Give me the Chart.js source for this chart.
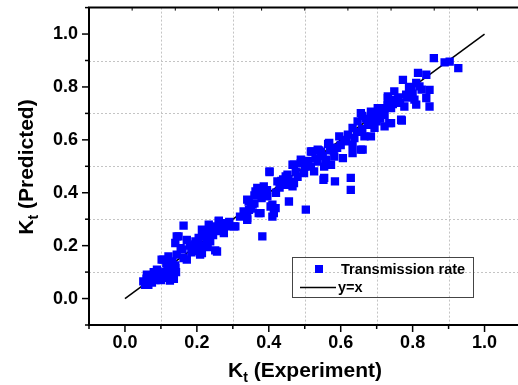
<!DOCTYPE html>
<html><head><meta charset="utf-8">
<script src="https://cdn.jsdelivr.net/npm/chart.js@4/dist/chart.umd.min.js"></script>
<style>html,body{margin:0;padding:0;background:#fff;overflow:hidden}#wrap{width:518px;height:385px;position:relative;overflow:hidden}</style>
</head><body><div id="wrap"><canvas id="c" width="530" height="385"></canvas></div>
<script>
const expX = [
0.051,0.056,0.065,0.061,0.070,0.079,0.089,0.085,0.098,0.095,0.107,0.112,0.121,0.130,0.135,0.128,0.110,0.118,0.140,0.075,0.100,0.125,0.136,0.090,0.105,0.060,0.080,0.115,0.132,0.142,0.121,0.102,
0.140,0.144,0.149,0.163,0.144,0.163,0.172,0.186,0.172,0.196,0.205,0.209,0.214,0.214,0.219,0.228,0.233,0.237,0.237,0.247,0.251,0.256,0.261,0.275,0.284,0.284,0.303,0.307,0.261,0.155,0.180,0.200,0.225,0.245,0.265,0.290,0.185,0.160,0.230,0.195,
0.330,0.340,0.340,0.344,0.340,0.363,0.368,0.386,0.396,0.402,0.402,0.424,0.447,0.452,0.466,0.466,0.489,0.456,0.419,0.377,0.410,0.410,0.405,0.372,0.414,0.382,0.442,0.470,0.452,0.470,0.498,0.489,0.503,0.350,0.360,0.380,0.390,0.430,0.440,0.480,0.360,0.320,0.355,0.420,0.460,
0.517,0.526,0.536,0.554,0.573,0.517,0.521,0.536,0.540,0.559,0.565,0.568,0.582,0.606,0.596,0.615,0.633,0.633,0.638,0.661,0.656,0.554,0.552,0.584,0.628,0.628,0.633,0.647,0.500,0.530,0.570,0.600,0.620,0.550,0.590,
0.656,0.684,0.712,0.675,0.694,0.722,0.735,0.666,0.684,0.731,0.703,0.740,0.722,0.768,0.740,0.770,0.749,0.731,0.782,0.805,0.759,0.777,0.810,0.796,0.773,0.810,0.819,0.847,0.838,0.847,0.815,0.838,0.859,0.889,0.903,0.927,0.670,0.690,0.700,0.710,0.730,0.750,0.760,0.790,0.680,0.720,0.660,0.700,
0.085,0.110,0.125,0.140,0.195,0.215,0.250,0.270,0.345,0.375,0.395,0.435,0.455,0.475,0.510,0.545,0.580,0.610,0.645,0.660,0.690,0.715,0.745,0.765,0.785,0.800,0.825
];
const predY = [
0.065,0.052,0.052,0.090,0.075,0.084,0.109,0.070,0.078,0.095,0.147,0.102,0.078,0.128,0.090,0.105,0.080,0.120,0.115,0.060,0.070,0.068,0.075,0.085,0.092,0.075,0.100,0.135,0.140,0.100,0.159,0.147,
0.210,0.235,0.235,0.276,0.166,0.153,0.147,0.191,0.222,0.216,0.229,0.166,0.172,0.260,0.235,0.216,0.279,0.254,0.216,0.273,0.182,0.178,0.292,0.248,0.273,0.285,0.273,0.273,0.294,0.190,0.200,0.200,0.245,0.240,0.255,0.290,0.175,0.185,0.195,0.180,
0.329,0.298,0.304,0.367,0.374,0.405,0.418,0.424,0.386,0.478,0.481,0.443,0.462,0.430,0.424,0.506,0.512,0.367,0.342,0.323,0.310,0.355,0.348,0.323,0.323,0.235,0.430,0.437,0.468,0.506,0.474,0.525,0.336,0.340,0.360,0.380,0.400,0.420,0.450,0.460,0.390,0.310,0.355,0.400,0.440,
0.499,0.481,0.518,0.499,0.506,0.556,0.556,0.563,0.560,0.525,0.585,0.588,0.537,0.531,0.613,0.594,0.581,0.550,0.607,0.563,0.563,0.456,0.449,0.443,0.456,0.411,0.645,0.670,0.500,0.530,0.560,0.580,0.620,0.540,0.570,
0.701,0.707,0.714,0.657,0.645,0.651,0.663,0.613,0.613,0.758,0.720,0.720,0.695,0.676,0.663,0.673,0.783,0.764,0.771,0.752,0.745,0.726,0.733,0.789,0.827,0.815,0.802,0.789,0.758,0.726,0.853,0.846,0.909,0.893,0.896,0.871,0.680,0.690,0.700,0.680,0.730,0.750,0.760,0.800,0.660,0.720,0.640,0.670,
0.090,0.095,0.088,0.125,0.205,0.200,0.265,0.262,0.335,0.395,0.410,0.445,0.450,0.480,0.520,0.555,0.560,0.600,0.630,0.690,0.700,0.705,0.735,0.740,0.760,0.775,0.790
];
const lineX = [0, 1];
const lineY = [0, 1];
const xTickValues = [0.0, 0.2, 0.4, 0.6, 0.8, 1.0];
const yTickValues = [0.0, 0.2, 0.4, 0.6, 0.8, 1.0];
const minorTickValues = [-0.1, 0.1, 0.3, 0.5, 0.7, 0.9, 1.1];
const seriesNames = ["Transmission rate", "y=x"];
const xTitle = ["K", "t", " (Experiment)"];
const yTitle = ["K", "t", " (Predicted)"];

const FONT = '"Liberation Sans", Arial, sans-serif';
const BLUE = '#0000ff';

const decor = {
  id: 'decor',
  beforeDatasetsDraw(chart) {
    const {ctx, chartArea: a, scales: {x, y}} = chart;
    ctx.save();
    ctx.strokeStyle = '#c4c4c4';
    ctx.lineWidth = 1;
    ctx.setLineDash([2, 2]);
    minorTickValues.forEach(v => {
      const px = Math.round(x.getPixelForValue(v)) + 0.5;
      if (px > a.left + 2 && px < a.right - 1) {
        ctx.beginPath(); ctx.moveTo(px, a.top); ctx.lineTo(px, a.bottom); ctx.stroke();
      }
      const py = Math.round(y.getPixelForValue(v)) + 0.5;
      if (py > a.top + 2 && py < a.bottom - 2) {
        ctx.beginPath(); ctx.moveTo(a.left, py); ctx.lineTo(a.right, py); ctx.stroke();
      }
    });
    ctx.restore();
  },
  afterDraw(chart) {
    const {ctx, chartArea: a, scales: {x, y}} = chart;
    ctx.save();
    ctx.strokeStyle = '#000';
    ctx.fillStyle = '#000';
    ctx.lineWidth = 2;
    ctx.beginPath();
    ctx.moveTo(a.right, a.top); ctx.lineTo(a.left, a.top); ctx.lineTo(a.left, a.bottom); ctx.lineTo(a.right, a.bottom);
    ctx.stroke();
    ctx.lineWidth = 1.5;
    xTickValues.forEach(v => { const px = x.getPixelForValue(v); ctx.beginPath(); ctx.moveTo(px, a.bottom); ctx.lineTo(px, a.bottom + 7); ctx.stroke(); });
    yTickValues.forEach(v => { const py = y.getPixelForValue(v); ctx.beginPath(); ctx.moveTo(a.left, py); ctx.lineTo(a.left - 7, py); ctx.stroke(); });
    minorTickValues.forEach(v => {
      const px = x.getPixelForValue(v);
      if (px >= a.left - 1 && px <= a.right) { ctx.beginPath(); ctx.moveTo(px, a.bottom); ctx.lineTo(px, a.bottom + 4); ctx.stroke(); }
      const py = y.getPixelForValue(v);
      if (py >= a.top - 1 && py <= a.bottom + 1) { ctx.beginPath(); ctx.moveTo(a.left, py); ctx.lineTo(a.left - 4, py); ctx.stroke(); }
    });
    ctx.lineWidth = 1;
    for (let k = 1; k < 10; k++) {
      const px = x.getPixelForValue(-0.1 + 0.12 * k);
      if (px < a.right) { ctx.beginPath(); ctx.moveTo(px, a.top); ctx.lineTo(px, a.top + 3); ctx.stroke(); }
    }
    const big = 'bold 21px ' + FONT, small = 'bold 14px ' + FONT;
    function drawTitle(parts, cx, base) {
      ctx.font = big; const w0 = ctx.measureText(parts[0]).width;
      ctx.font = small; const w1 = ctx.measureText(parts[1]).width;
      ctx.font = big; const w2 = ctx.measureText(parts[2]).width;
      let sx = cx - (w0 + w1 + w2) / 2;
      ctx.textBaseline = 'alphabetic'; ctx.textAlign = 'left';
      ctx.font = big; ctx.fillText(parts[0], sx, base);
      ctx.font = small; ctx.fillText(parts[1], sx + w0, base + 5);
      ctx.font = big; ctx.fillText(parts[2], sx + w0 + w1, base);
    }
    drawTitle(xTitle, 305, 377);
    ctx.save();
    ctx.translate(33, 167);
    ctx.rotate(-Math.PI / 2);
    drawTitle(yTitle, 0, 0);
    ctx.restore();
    ctx.lineWidth = 1;
    ctx.strokeStyle = '#444';
    ctx.strokeRect(292.5, 257.5, 181, 40);
    ctx.fillStyle = BLUE;
    ctx.fillRect(315, 265, 8, 8);
    ctx.strokeStyle = '#000';
    ctx.lineWidth = 1.5;
    ctx.beginPath(); ctx.moveTo(300, 287.5); ctx.lineTo(336, 287.5); ctx.stroke();
    ctx.fillStyle = '#000';
    ctx.font = 'bold 14.5px ' + FONT;
    ctx.textBaseline = 'middle'; ctx.textAlign = 'left';
    ctx.fillText(seriesNames[0], 341, 270);
    ctx.fillText(seriesNames[1], 338, 288);
    ctx.restore();
  }
};

new Chart(document.getElementById('c'), {
  type: 'scatter',
  data: {
    datasets: [
      { label: seriesNames[0], data: expX.map((v, i) => ({x: v, y: predY[i]})),
        pointStyle: 'rect', pointRadius: 5.9, pointHoverRadius: 5.9,
        backgroundColor: BLUE, borderColor: BLUE, borderWidth: 0 },
      { label: seriesNames[1], data: lineX.map((v, i) => ({x: v, y: lineY[i]})),
        showLine: true, borderColor: '#000', borderWidth: 1.5, pointRadius: 0, fill: false }
    ]
  },
  options: {
    responsive: false, animation: false, devicePixelRatio: 1,
    layout: { padding: { top: 7.6, right: 0, left: 0, bottom: 0 } },
    plugins: { legend: { display: false }, tooltip: { enabled: false } },
    scales: {
      x: {
        type: 'linear', min: -0.1, max: 1.11,
        afterBuildTicks: s => { s.ticks = xTickValues.map(v => ({value: v})); },
        afterFit: s => { s.height = 60; s.paddingLeft = 0; s.paddingRight = 0; },
        grid: { display: false, drawTicks: false }, border: { display: false },
        ticks: { color: '#000', padding: 7, font: { family: FONT, size: 18, weight: 'bold' }, callback: v => Number(v).toFixed(1), maxRotation: 0, autoSkip: false }
      },
      y: {
        type: 'linear', min: -0.1, max: 1.1,
        afterBuildTicks: s => { s.ticks = yTickValues.map(v => ({value: v})); },
        afterFit: s => { s.width = 89; s.paddingTop = 0; s.paddingBottom = 0; },
        grid: { display: false, drawTicks: false }, border: { display: false },
        ticks: { color: '#000', padding: 11, font: { family: FONT, size: 18, weight: 'bold' }, callback: v => Number(v).toFixed(1), autoSkip: false }
      }
    }
  },
  plugins: [decor]
});
</script>
</body></html>
